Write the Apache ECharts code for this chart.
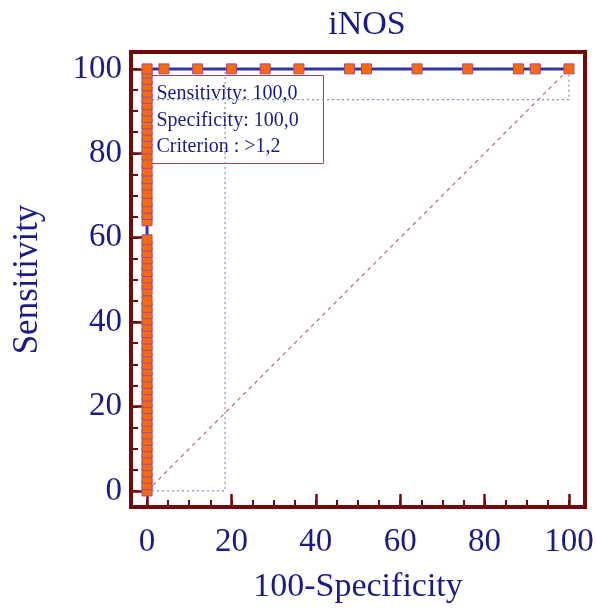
<!DOCTYPE html>
<html>
<head>
<meta charset="utf-8">
<title>iNOS ROC</title>
<script src="https://cdn.jsdelivr.net/npm/echarts@6/dist/echarts.min.js"></script>
<style>
  html, body { margin: 0; padding: 0; background: #ffffff; }
  #chart { width: 596px; height: 610px; }
</style>
</head>
<body>
<div id="chart"></div>
<script>
// ROC curve for iNOS: sensitivity (%) against 100-specificity (%)
const titleText = 'iNOS';
const xName = '100-Specificity';
const yName = 'Sensitivity';

// Steps of the curve along the vertical axis (100-specificity = 0)
const sensitivityAtZero = [
  0, 1.5, 3, 4.5, 6, 7.5, 9, 10.5, 12, 13.5, 15, 16.5, 18, 19.5, 21, 22.5,
  24, 25.5, 27, 28.5, 30, 31.5, 33, 34.5, 36, 37.5, 39, 40.5, 42, 43.5, 45,
  47.5, 49, 50.5, 52, 53.5, 55, 56.5, 58, 59.5,
  64, 65.5, 67, 68.5,
  70.5, 72.5, 74, 75.8, 77.6, 79.6,
  81, 82.5, 84, 85.5, 87, 88.5, 90, 91.5, 93, 94.5, 96, 97.5, 99, 100
];
// Steps of the curve along the top (sensitivity = 100)
const fprAtFull = [4, 12, 20, 28, 36, 48, 52, 64, 76, 88, 92, 100];

// Reference diagonal
const diagonal = [[0, 0], [100, 100]];
// Confidence bounds of the optimal criterion
const fprUpper = 18.5;
const sensLower = 92.7;

// Tick values
const majorTicks = [0, 20, 40, 60, 80, 100];
const minorTicks = [0, 5, 10, 15, 20, 25, 30, 35, 40, 45, 50, 55, 60, 65, 70, 75, 80, 85, 90, 95, 100];

// Criterion summary
const summaryLines = ['Sensitivity: 100,0', 'Specificity: 100,0', 'Criterion : >1,2'];

const navy = '#1a1a8a';
const maroon = '#720808';
const serif = '"Liberation Serif", "Times New Roman", serif';

const rocData = sensitivityAtZero.map(s => [0, s]).concat(fprAtFull.map(f => [f, 100]));
const ciVertical = [[0, 0], [fprUpper, 0], [fprUpper, 100]];
const ciHorizontal = [[0, sensLower], [100, sensLower], [100, 100]];

const chart = echarts.init(document.getElementById('chart'), null, { renderer: 'canvas' });

function valueAxis(isX, ticks, len, width, withLabels, extra) {
  const base = {
    type: 'value',
    min: -3.8,
    max: isX ? 103.8 : 104,
    position: isX ? 'bottom' : 'left',
    splitLine: { show: false },
    axisLine: { show: false, onZero: false },
    axisTick: {
      show: true, inside: true, length: len, customValues: ticks,
      lineStyle: { color: maroon, width: width }
    },
    axisLabel: withLabels ? {
      show: true, customValues: majorTicks, color: navy,
      fontFamily: serif, fontSize: 33, margin: isX ? 19 : 9
    } : { show: false }
  };
  return Object.assign(base, extra || {});
}

const option = {
  backgroundColor: '#ffffff',
  animation: false,
  title: {
    text: titleText,
    left: 362, top: 3, textAlign: 'center',
    textStyle: { color: navy, fontFamily: serif, fontSize: 34, fontWeight: 'normal' }
  },
  grid: {
    left: 131, top: 52, right: 11, bottom: 103,
    containLabel: false, outerBoundsMode: 'none',
    show: true, borderColor: maroon, borderWidth: 4, backgroundColor: 'transparent'
  },
  xAxis: [
    valueAxis(true, majorTicks, 13, 2.5, true, {
      name: xName, nameLocation: 'middle', nameGap: 63,
      nameTextStyle: { color: navy, fontFamily: serif, fontSize: 34 }
    }),
    valueAxis(true, minorTicks, 7, 2, false)
  ],
  yAxis: [
    valueAxis(false, majorTicks, 11, 2.5, true, {
      name: yName, nameLocation: 'middle', nameGap: 86, nameRotate: 90,
      nameTextStyle: { color: navy, fontFamily: serif, fontSize: 35 }
    }),
    valueAxis(false, minorTicks, 7, 2, false)
  ],
  series: [
    {
      type: 'line', data: diagonal, symbol: 'none', silent: true, z: 1,
      lineStyle: { color: '#b06a80', width: 1.2, type: [4, 4] }
    },
    {
      type: 'line', data: ciVertical, symbol: 'none', silent: true, z: 1,
      lineStyle: { color: '#8c8cc8', width: 1.2, type: [2, 3] }
    },
    {
      type: 'line', data: ciHorizontal, symbol: 'none', silent: true, z: 1,
      lineStyle: { color: '#8c8cc8', width: 1.2, type: [2, 3] }
    },
    {
      type: 'line', data: rocData, z: 3,
      symbol: 'rect', symbolSize: 10, showAllSymbol: true,
      lineStyle: { color: '#3232a8', width: 3 },
      itemStyle: { color: '#ff6a00', borderColor: '#9a4aa0', borderWidth: 1 }
    }
  ],
  graphic: [
    {
      type: 'group', left: 150, top: 75, z: 100,
      children: [
        {
          type: 'rect', shape: { x: 0, y: 0, width: 173, height: 88 },
          style: { fill: '#ffffff', stroke: '#9a4a4a', lineWidth: 1 }
        },
        {
          type: 'text', x: 6, y: 5,
          style: {
            text: summaryLines.join('\n'), fill: navy,
            font: '20px ' + serif, lineHeight: 26.5
          }
        }
      ]
    }
  ]
};

chart.setOption(option);
</script>
</body>
</html>
